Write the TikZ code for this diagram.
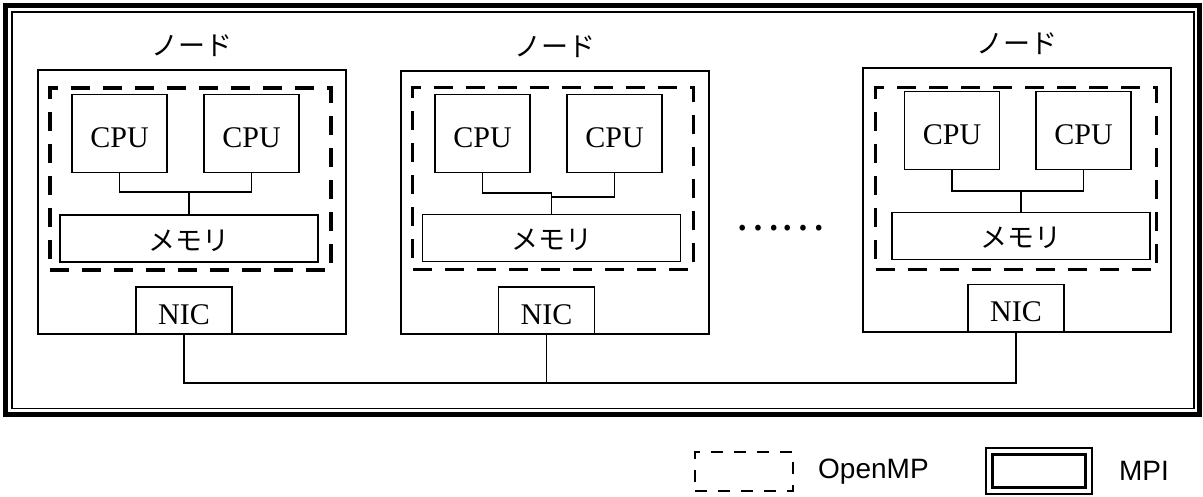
\documentclass[tikz,border=0pt]{standalone}
\usepackage{fontspec}
\setmainfont{Liberation Serif}
\setsansfont{Liberation Sans}
\newfontfamily\jpfont{Noto Sans CJK JP}
\usetikzlibrary{positioning}
\tikzset{
  box/.style={draw, line width=1.9pt, inner sep=0pt, font=\fontsize{30}{36}\selectfont, text height=27pt, text depth=0pt},
  nodebox/.style={box, minimum width=308pt, minimum height=264pt},
  cpu/.style={box, minimum width=95pt, minimum height=78pt},
  mem/.style={box, minimum width=258pt, minimum height=47pt, font=\jpfont\fontsize{27}{32}\selectfont, text height=25pt, text depth=2pt},
  nic/.style={box, minimum width=96pt, minimum height=47pt},
  omp/.style={draw, line width=#1, dash pattern=on 19pt off 13pt, inner sep=0pt, minimum width=281pt, minimum height=182pt},
  omp/.default=3pt,
  wire/.style={line width=1.9pt},
  title/.style={font=\jpfont\fontsize{27}{32}\selectfont, inner sep=0pt},
  note/.style={font=\sffamily\fontsize{28}{34}\selectfont, inner sep=0pt},
}

\begin{document}
\begin{tikzpicture}[x=1pt, y=-1pt]
  \useasboundingbox (0,0) rectangle (1203,496);
  % MPI frame
  \draw[line width=5pt] (5.5,5.5) rectangle (1199.5,414.5);
  \draw[line width=1.5pt] (12,12) rectangle (1194,408.5);
  % node 1
  \node[nodebox] (node1) at (192,202) {};
  \node[title, above=12pt of node1] {ノード};
  \node[omp=4pt] (omp1) at (190,178.5) {};
  \node[cpu] (cpu1a) at (119.5,133.5) {CPU};
  \node[cpu] (cpu1b) at (251.5,133.5) {CPU};
  \node[mem] (mem1) at (189,238.5) {メモリ};
  \node[nic] (nic1) at (184,310.5) {NIC};
  \draw[wire] (mem1.north) -- ++(0,-22) -| (cpu1a.south);
  \draw[wire] (mem1.north) ++(0,-22) -| (cpu1b.south);
  % node 2
  \node[nodebox, minimum height=263pt] (node2) at (555,202.5) {};
  \node[title, above=12pt of node2] {ノード};
  \node[omp] (omp2) at (553,178) {};
  \node[cpu] (cpu2a) at (482.5,133.5) {CPU};
  \node[cpu] (cpu2b) at (614.5,133.5) {CPU};
  \node[mem] (mem2) at (551.5,238) {メモリ};
  \node[nic] (nic2) at (546.5,310.5) {NIC};
  \draw[wire] (mem2.north) -- ++(0,-21) -| (cpu2a.south);
  \draw[wire] (mem2.north) ++(0,-17) -| (cpu2b.south);
  % dots
  \node[font=\jpfont\fontsize{42}{48}\selectfont, inner sep=0pt] (dots) at (780,228) {……};
  % node 3
  \node[nodebox] (node3) at (1017,200) {};
  \node[title, above=12pt of node3] {ノード};
  \node[omp] (omp3) at (1016,178.5) {};
  \node[cpu] (cpu3a) at (952,130.5) {CPU};
  \node[cpu] (cpu3b) at (1083.5,130.5) {CPU};
  \node[mem] (mem3) at (1021,236) {メモリ};
  \node[nic] (nic3) at (1016,308) {NIC};
  \draw[wire] (mem3.north) -- ++(0,-21) -| (cpu3a.south);
  \draw[wire] (mem3.north) ++(0,-21) -| (cpu3b.south);
  % network
  \draw[wire] (nic1.south) -- ++(0,48) -| (nic3.south);
  \draw[wire] (nic2.south) -- ++(0,48);
  % legend
  \node[omp=2pt, dash pattern=on 12pt off 11pt, minimum width=98pt, minimum height=39pt] (keyomp) at (744,471.5) {};
  \node[note, right=24pt of keyomp] {OpenMP};
  \node[draw, line width=1.7pt, minimum width=106pt, minimum height=46pt] (keympi) at (1039,471) {};
  \node[draw, line width=2.7pt, minimum width=93pt, minimum height=33pt] at (keympi) {};
  \node[note, right=26pt of keympi] {MPI};
\end{tikzpicture}
\end{document}
